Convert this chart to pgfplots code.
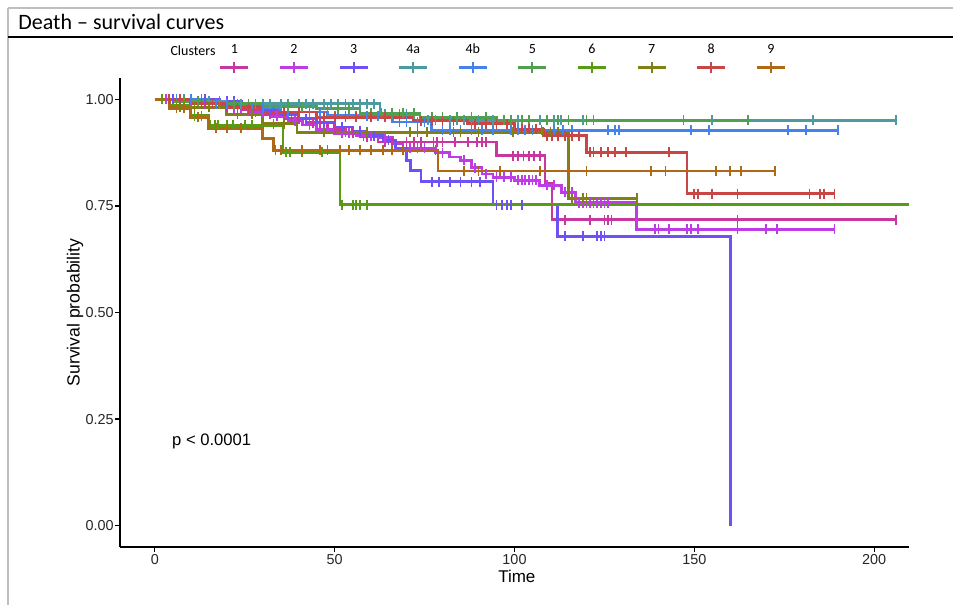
\documentclass[border=0pt]{standalone}
\usepackage{fontspec}
\setmainfont{Liberation Sans}
\newfontfamily\calibri{Carlito}
\usepackage{pgfplots}
\pgfplotsset{compat=1.18}
\definecolor{c1}{HTML}{C837A0}
\definecolor{c2}{HTML}{BE3CE6}
\definecolor{c3}{HTML}{6E50F5}
\definecolor{c4a}{HTML}{4B9BA0}
\definecolor{c4b}{HTML}{4682EB}
\definecolor{c5}{HTML}{50A050}
\definecolor{c6}{HTML}{5A9B14}
\definecolor{c7}{HTML}{808014}
\definecolor{c8}{HTML}{C84646}
\definecolor{c9}{HTML}{AF6914}
\pgfplotsset{
  legimg/.style 2 args={legend image code/.code={
    \draw[#2, line width=1.4pt] (0pt,0pt) -- (14pt,0pt);
    \draw[#2, line width=1pt] (7pt,-2.7pt) -- (7pt,2.7pt);
    \node[black, font=\calibri\fontsize{7}{8}\selectfont, inner sep=0pt, anchor=base] at (7pt,6.9pt) {#1};
  }},
  curve/.style={#1, line width=1.35pt, const plot, mark=none},
  cens/.style={#1, only marks, mark=|, mark size=2.5pt, mark options={line width=0.85pt, solid}, forget plot},
}
\begin{document}
\begin{tikzpicture}
\path[use as bounding box] (0pt,0pt) rectangle (476.5pt,-302.5pt);
\draw[black!25, line width=0.6pt] (4pt,-4pt) -- (476.5pt,-4pt);
\draw[black!25, line width=0.6pt] (4pt,-4pt) -- (4pt,-302.5pt);
\draw[black, line width=0.8pt] (4pt,-18.5pt) -- (476.5pt,-18.5pt);
\node[anchor=west, font=\calibri\fontsize{11}{13}\selectfont, inner sep=0pt] at (9pt,-11pt) {Death – survival curves};
\node[font=\calibri\fontsize{7}{8}\selectfont, inner sep=0pt] at (96.5pt,-25.3pt) {Clusters};
\begin{axis}[
  at={(60pt,-273.5pt)}, anchor=south west, scale only axis,
  width=394.5pt, height=234.5pt,
  xmin=-9.7, xmax=209.7, ymin=-0.05, ymax=1.05,
  axis lines=left, axis line style={-, line width=0.7pt},
  tick align=outside, major tick length=2.5pt,
  tick style={black, line width=0.6pt},
  xtick={0,50,100,150,200},
  ytick={0,0.25,0.5,0.75,1},
  /pgf/number format/assume math mode=true,
  ticklabel style={font=\fontsize{7.2}{8}\selectfont, text=black!85},
  xticklabel style={yshift=2.5pt},
  yticklabel style={xshift=2.8pt, /pgf/number format/.cd, fixed, fixed zerofill, precision=2},
  xlabel={Time}, ylabel={Survival probability},
  xlabel style={font=\fontsize{8.5}{10}\selectfont, at={(axis description cs:0.503,-0.062)}, anchor=center},
  ylabel style={font=\fontsize{8.8}{10}\selectfont, at={(axis description cs:-0.057,0.5)}, anchor=center},
  clip=true,
  legend columns=10,
  legend style={at={(axis description cs:0,1)}, anchor=south west, xshift=49.5pt, yshift=2pt,
    draw=none, fill=none, inner sep=0pt, outer sep=0pt,
    nodes={inner sep=0pt, text depth=0pt},
    /tikz/every odd column/.style={column sep=0pt},
    /tikz/every even column/.style={column sep=13.4pt}},
]
% 1
\addplot[curve=c1, legimg={1}{c1}] coordinates {(0,1)(6,0.995)(12,0.99)(18,0.983)(24,0.975)(30,0.965)(36,0.955)(42,0.945)(48,0.93)(53,0.92)(57,0.912)(62,0.90)(95,0.868)(108.5,0.803)(110.4,0.718)(206,0.718)};
\addlegendentry{}
\addplot[cens=c1] coordinates {(2,1)(4,1)(6,0.995)(8,0.995)(10,0.995)(14,0.99)(16,0.99)(20,0.983)(22,0.983)(26,0.975)(28,0.975)(32,0.965)(34,0.965)(38,0.955)(40,0.955)(44,0.945)(46,0.945)(50,0.93)(55,0.92)(59,0.912)(64,0.9)(66,0.9)(70,0.9)(72,0.9)(74,0.9)(77.5,0.9)(78.5,0.9)(80,0.9)(83.5,0.9)(87,0.9)(89.5,0.9)(91,0.9)(92,0.9)(99.5,0.868)(101,0.868)(102.5,0.868)(104,0.868)(105.5,0.868)(107,0.868)(114,0.718)(121,0.718)(125,0.718)(126,0.718)(127,0.718)(162,0.718)(206,0.718)};
% 2
\addplot[curve=c2, legimg={2}{c2}] coordinates {(0,1)(8,0.995)(14,0.99)(20,0.98)(26,0.97)(32,0.96)(37,0.95)(41,0.94)(45,0.93)(50,0.92)(56,0.915)(62,0.91)(66,0.895)(69,0.885)(78,0.875)(82,0.865)(85,0.857)(88,0.84)(91,0.825)(94,0.817)(100,0.81)(107,0.798)(113,0.782)(117,0.758)(134,0.695)(189,0.695)};
\addlegendentry{}
\addplot[cens=c2] coordinates {(3,1)(5,1)(10,0.995)(12,0.995)(16,0.99)(18,0.99)(22,0.98)(24,0.98)(28,0.97)(30,0.97)(34,0.96)(39,0.95)(43,0.94)(47,0.93)(52,0.92)(54,0.92)(58,0.915)(60,0.915)(64,0.91)(71,0.885)(73,0.885)(75,0.885)(80,0.875)(86,0.857)(89,0.84)(92,0.825)(95,0.817)(97,0.817)(99,0.817)(101,0.81)(102,0.81)(103,0.81)(104,0.81)(105,0.81)(106,0.81)(109,0.798)(111,0.798)(114,0.782)(116,0.782)(118,0.758)(119,0.758)(120,0.758)(121,0.758)(122,0.758)(123,0.758)(124,0.758)(125,0.758)(126,0.758)(139,0.695)(140,0.695)(143,0.695)(148,0.695)(149,0.695)(151,0.695)(162,0.695)(170,0.695)(173,0.695)(189,0.695)};
% 3
\addplot[curve=c3, legimg={3}{c3}] coordinates {(0,1)(18,0.995)(24,0.985)(30,0.975)(35,0.965)(40,0.955)(45,0.945)(50,0.935)(55,0.925)(59,0.915)(63.5,0.904)(67,0.885)(70,0.857)(71,0.833)(74,0.807)(94,0.753)(112,0.679)(160,0)};
\addlegendentry{}
\addplot[cens=c3] coordinates {(5,1)(10,1)(14,1)(20,0.995)(22,0.995)(26,0.985)(28,0.985)(32,0.975)(37,0.965)(42,0.955)(47,0.945)(52,0.935)(57,0.925)(61,0.915)(65,0.904)(77,0.807)(79,0.807)(82,0.807)(85,0.807)(88,0.807)(90.5,0.807)(95,0.753)(96.5,0.753)(98,0.753)(99,0.753)(102,0.753)(114,0.679)(119,0.679)(123,0.679)(124,0.679)(125,0.679)};
% 4a
\addplot[curve=c4a, legimg={4a}{c4a}] coordinates {(0,1)(10,0.995)(20,0.99)(62.6,0.965)(73.7,0.951)(206,0.951)};
\addlegendentry{}
\addplot[cens=c4a] coordinates {(4,1)(8,1)(12,0.995)(15,0.995)(18,0.995)(22,0.99)(24,0.99)(26,0.99)(28,0.99)(30,0.99)(32,0.99)(35,0.99)(37,0.99)(40,0.99)(42,0.99)(44,0.99)(47,0.99)(49,0.99)(51,0.99)(53,0.99)(55,0.99)(57,0.99)(59,0.99)(61,0.99)(64,0.965)(66,0.965)(68,0.965)(70,0.965)(72,0.965)(76,0.951)(78,0.951)(80,0.951)(82,0.951)(84,0.951)(86,0.951)(88,0.951)(90,0.951)(92,0.951)(94,0.951)(97,0.951)(101,0.951)(104,0.951)(107,0.951)(111,0.951)(113,0.951)(119,0.951)(122,0.951)(155,0.951)(183,0.951)(206,0.951)};
% 4b
\addplot[curve=c4b, legimg={4b}{c4b}] coordinates {(0,1)(15,0.99)(25,0.98)(35,0.97)(48,0.962)(66,0.947)(77,0.927)(190,0.927)};
\addlegendentry{}
\addplot[cens=c4b] coordinates {(6,1)(10,1)(13,1)(17,0.99)(20,0.99)(23,0.99)(27,0.98)(30,0.98)(33,0.98)(37,0.97)(40,0.97)(43,0.97)(46,0.97)(50,0.962)(53,0.962)(56,0.962)(59,0.962)(62,0.962)(64,0.962)(68,0.947)(70,0.947)(73,0.947)(75,0.947)(80,0.927)(82,0.927)(85,0.927)(88,0.927)(91,0.927)(94,0.927)(99,0.927)(101,0.927)(103,0.927)(105,0.927)(107.5,0.927)(111,0.927)(113.5,0.927)(116,0.927)(126,0.927)(128,0.927)(129,0.927)(149,0.927)(154,0.927)(176,0.927)(181,0.927)(190,0.927)};
% 5
\addplot[curve=c5, legimg={5}{c5}] coordinates {(0,1)(5,0.995)(15,0.99)(30,0.983)(45,0.978)(57,0.967)(73.7,0.958)(95,0.951)(165,0.951)};
\addlegendentry{}
\addplot[cens=c5] coordinates {(8,0.995)(12,0.995)(18,0.99)(22,0.99)(26,0.99)(33,0.983)(37,0.983)(41,0.983)(48,0.978)(51,0.978)(54,0.978)(60,0.967)(63,0.967)(66,0.967)(69,0.967)(72,0.967)(77,0.958)(80,0.958)(84,0.958)(88,0.958)(92,0.958)(97,0.951)(99,0.951)(102,0.951)(104,0.951)(109,0.951)(112,0.951)(115,0.951)(120,0.951)(147,0.951)(165,0.951)};
% 6
\addplot[curve=c6, legimg={6}{c6}] coordinates {(0,1)(4,0.986)(10,0.962)(15,0.939)(35.6,0.876)(51.5,0.753)(209.7,0.753)};
\addlegendentry{}
\addplot[cens=c6] coordinates {(2,1)(6,0.986)(8,0.986)(11,0.962)(13,0.962)(15.5,0.939)(16.7,0.939)(17.5,0.939)(20,0.939)(21.7,0.939)(25,0.939)(27,0.939)(36.5,0.876)(37.5,0.876)(41,0.876)(46.5,0.876)(52,0.753)(55,0.753)(56,0.753)(57,0.753)(59,0.753)};
% 7
\addplot[curve=c7, legimg={7}{c7}] coordinates {(0,1)(4,0.981)(20,0.965)(30,0.943)(39.5,0.923)(115,0.768)(134,0.768)};
\addlegendentry{}
\addplot[cens=c7] coordinates {(7,0.981)(11,0.981)(15,0.981)(23,0.965)(27,0.965)(33,0.943)(36,0.943)(47,0.923)(53,0.923)(59,0.923)(71,0.923)(73,0.923)(75.7,0.923)(83,0.923)(85,0.923)(90,0.923)(99.6,0.923)(108,0.923)(110,0.923)(112,0.923)(116,0.768)(119,0.768)(120,0.768)(134,0.768)};
% 8
\addplot[curve=c8, legimg={8}{c8}] coordinates {(0,1)(10,0.99)(20,0.98)(30,0.97)(45,0.958)(72,0.95)(87,0.943)(100,0.93)(108,0.915)(120,0.876)(148,0.779)(189,0.779)};
\addlegendentry{}
\addplot[cens=c8] coordinates {(4,1)(7,1)(13,0.99)(16,0.99)(23,0.98)(26,0.98)(33,0.97)(36,0.97)(40,0.97)(47,0.958)(50,0.958)(53,0.958)(56,0.958)(60,0.958)(64,0.958)(68,0.958)(74,0.95)(77,0.95)(80,0.95)(83,0.95)(89,0.943)(92,0.943)(95,0.943)(98,0.943)(102,0.93)(104,0.93)(106,0.93)(109,0.915)(110.5,0.915)(112,0.915)(114,0.915)(116,0.915)(118,0.915)(121,0.876)(122,0.876)(124,0.876)(126,0.876)(128,0.876)(131,0.876)(143,0.876)(150,0.779)(151,0.779)(155,0.779)(162,0.779)(182,0.779)(185,0.779)(186,0.779)(189,0.779)};
% 9
\addplot[curve=c9, legimg={9}{c9}] coordinates {(0,1)(4,0.979)(10,0.958)(15,0.932)(30,0.908)(33,0.88)(78.7,0.832)(172.5,0.832)};
\addlegendentry{}
\addplot[cens=c9] coordinates {(6,0.979)(8,0.979)(12,0.958)(17,0.932)(20,0.932)(24,0.932)(33.5,0.88)(35,0.88)(41,0.88)(46,0.88)(48,0.88)(51.5,0.88)(54,0.88)(57,0.88)(60,0.88)(63.5,0.88)(66,0.88)(69,0.88)(78,0.88)(86,0.832)(90,0.832)(96,0.832)(107,0.832)(115,0.832)(120,0.832)(138,0.832)(142,0.832)(156,0.832)(160,0.832)(163,0.832)(172.5,0.832)};
\node[anchor=west, font=\fontsize{8.3}{10}\selectfont, inner sep=0pt] at (axis cs:4.7,0.197) {p < 0.0001};
\end{axis}
\end{tikzpicture}
\end{document}
